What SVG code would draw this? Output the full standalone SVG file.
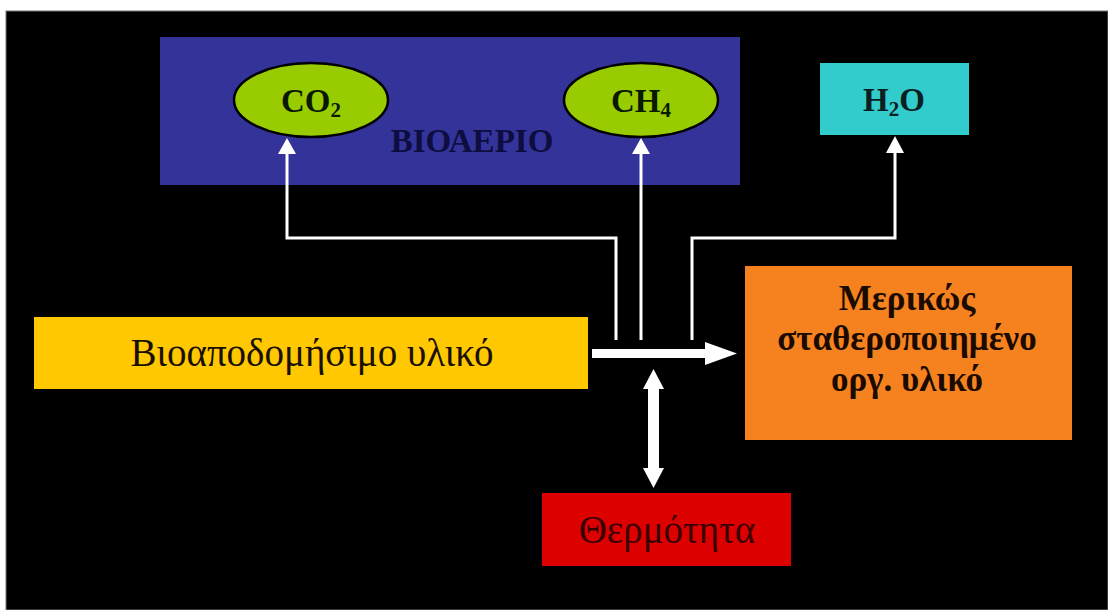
<svg xmlns="http://www.w3.org/2000/svg" width="1108" height="610" viewBox="0 0 1108 610">
<defs>
<style>
.t{font-family:"Liberation Serif","Times New Roman",serif;}
.b{font-weight:bold;}
.ln{fill:none;stroke:#ffffff;stroke-width:3;}
</style>
</defs>
<rect x="0" y="0" width="1108" height="610" fill="#ffffff"/>
<rect x="6" y="11" width="1102" height="599" fill="#000000" stroke="#777777" stroke-width="1"/>

<g id="biogas">
<rect x="160" y="37" width="580" height="148" fill="#333399"/>
<text class="t b" x="472" y="152" font-size="33" fill="#0d0d40" text-anchor="middle">ΒΙΟΑΕΡΙΟ</text>
</g>
<g id="co2">
<ellipse cx="311" cy="100" rx="77" ry="37" fill="#99cc00" stroke="#000000" stroke-width="2.5"/>
<text class="t b" x="311" y="112" font-size="33" fill="#0a1a00" text-anchor="middle">CO<tspan font-size="21" dy="5">2</tspan></text>
</g>
<g id="ch4">
<ellipse cx="641" cy="100" rx="77" ry="37" fill="#99cc00" stroke="#000000" stroke-width="2.5"/>
<text class="t b" x="641" y="112" font-size="33" fill="#0a1a00" text-anchor="middle">CH<tspan font-size="21" dy="5">4</tspan></text>
</g>
<g id="h2o">
<rect x="820" y="63" width="149" height="72" fill="#33cccc"/>
<text class="t b" x="894" y="111" font-size="33" fill="#0a2020" text-anchor="middle">H<tspan font-size="21" dy="5">2</tspan><tspan dy="-5">O</tspan></text>
</g>
<g id="material">
<rect x="34" y="317" width="554" height="72" fill="#ffc800"/>
<text class="t" x="312" y="366" font-size="39" fill="#1a1000" text-anchor="middle">Βιοαποδομήσιμο υλικό</text>
</g>
<g id="stabilized">
<rect x="745" y="266" width="327" height="174" fill="#f5821f"/>
<text class="t b" x="907" y="310" font-size="35" fill="#1a0a00" text-anchor="middle">Μερικώς</text>
<text class="t b" x="907" y="350" font-size="35" fill="#1a0a00" text-anchor="middle">σταθεροποιημένο</text>
<text class="t b" x="907" y="391" font-size="35" fill="#1a0a00" text-anchor="middle">οργ. υλικό</text>
</g>
<g id="heat">
<rect x="542" y="493" width="249" height="73" fill="#dd0000"/>
<text class="t" x="667" y="543" font-size="39" fill="#3a0000" text-anchor="middle">Θερμότητα</text>
</g>

<g id="connectors">
<path class="ln" d="M616,340 V238 H287 V152"/>
<path d="M287,138 L278,154 L296,154 z" fill="#ffffff"/>
<path class="ln" d="M641,340 V152"/>
<path d="M641,138 L632,154 L650,154 z" fill="#ffffff"/>
<path class="ln" d="M692,340 V238 H895 V150"/>
<path d="M895,136 L886,153 L904,153 z" fill="#ffffff"/>
<rect x="592" y="349" width="115" height="9" fill="#ffffff"/>
<path d="M705,342 L737,353.5 L705,365 z" fill="#ffffff"/>
<rect x="648" y="387" width="11" height="83" fill="#ffffff"/>
<path d="M653.5,369 L643,389 L664,389 z" fill="#ffffff"/>
<path d="M653.5,488 L643,468 L664,468 z" fill="#ffffff"/>
</g>
</svg>
